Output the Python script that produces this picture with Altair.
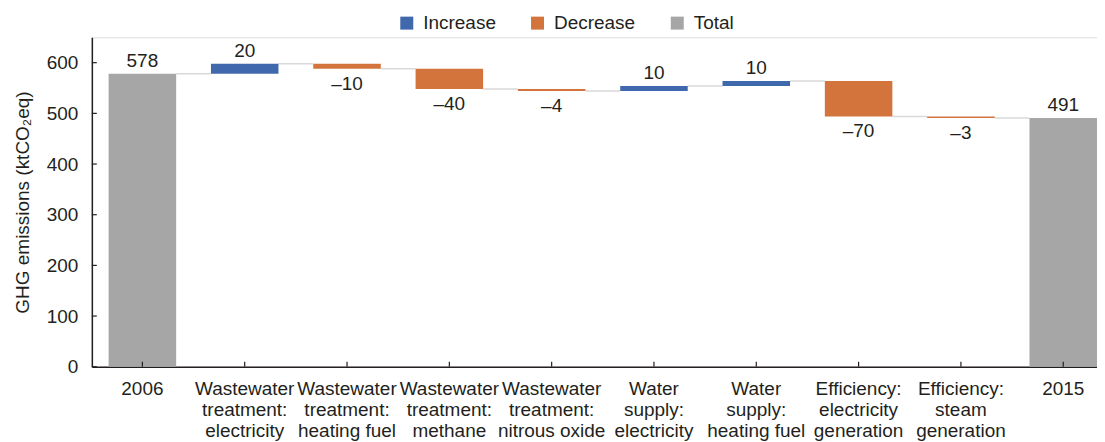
import altair as alt
import pandas as pd

# ---- data ----
categories = [
    "2006",
    "Wastewater|treatment:|electricity",
    "Wastewater|treatment:|heating fuel",
    "Wastewater|treatment:|methane",
    "Wastewater|treatment:|nitrous oxide",
    "Water|supply:|electricity",
    "Water|supply:|heating fuel",
    "Efficiency:|electricity|generation",
    "Efficiency:|steam|generation",
    "2015",
]
start_total = 578
changes = [20, -10, -40, -4, 10, 10, -70, -3]
end_total = 491
y_ticks = [0, 100, 200, 300, 400, 500, 600]
legend_labels = ["Increase", "Decrease", "Total"]
legend_colors = ["#4068ac", "#d2743c", "#a6a6a6"]

FONT = "Liberation Sans"
FS = 19
AXIS_COLOR = "#231f20"
TEXT_COLOR = "#231f20"

# ---- build tables ----
rows = [dict(cat=categories[0], start=0, end=start_total, kind="Total",
             text=str(start_total))]
cum = start_total
for c, d in zip(categories[1:-1], changes):
    rows.append(dict(cat=c, start=cum, end=cum + d,
                     kind="Increase" if d > 0 else "Decrease",
                     text=str(d).replace("-", "\u2013")))
    cum += d
rows.append(dict(cat=categories[-1], start=0, end=end_total, kind="Total",
                 text=str(end_total)))
bars_df = pd.DataFrame(rows)

conn_df = pd.DataFrame([
    dict(cat=rows[i]["cat"], nxt=rows[i + 1]["cat"], level=rows[i]["end"])
    for i in range(len(rows) - 1)
])
ytick_df = pd.DataFrame({"v": y_ticks})

xscale = alt.Scale(domain=categories, paddingInner=0.34, paddingOuter=0.082, align=1)
yscale = alt.Scale(domain=[0, 650])

x_axis = alt.Axis(
    title=None, labelExpr="split(datum.label, '|')", labelAngle=0,
    labelFontSize=FS, labelFont=FONT, labelColor=TEXT_COLOR,
    labelLineHeight=21, labelPadding=13, ticks=False, tickSize=0,
    domainColor=AXIS_COLOR, domainWidth=1.5, labelOverlap=False, labelLimit=300,
)
y_axis = alt.Axis(
    title="GHG emissions (ktCO\u2082eq)", values=y_ticks, grid=False,
    ticks=False, tickSize=0, labelPadding=14, labelFontSize=FS,
    labelFont=FONT, labelColor=TEXT_COLOR, titleFont=FONT, titleFontSize=FS,
    titleFontWeight="normal", titleColor=TEXT_COLOR, titlePadding=14,
    domainColor=AXIS_COLOR, domainWidth=1.5,
)

connectors = alt.Chart(conn_df).mark_rule(color="#d9d9d9", strokeWidth=1.5).encode(
    x=alt.X("cat:N", scale=xscale, sort=categories, axis=x_axis, bandPosition=1),
    x2=alt.X2("nxt:N", bandPosition=0),
    y=alt.Y("level:Q", scale=yscale, axis=y_axis),
)

bars = alt.Chart(bars_df).mark_bar().encode(
    x=alt.X("cat:N", scale=xscale, sort=categories, axis=x_axis),
    y=alt.Y("start:Q", scale=yscale, axis=y_axis),
    y2="end:Q",
    color=alt.Color(
        "kind:N",
        scale=alt.Scale(domain=legend_labels, range=legend_colors),
        legend=alt.Legend(
            title=None, orient="none", legendX=306, legendY=-24,
            direction="horizontal", symbolType="square", symbolSize=169,
            symbolStrokeWidth=0, labelFontSize=FS, labelFont=FONT,
            labelColor=TEXT_COLOR, labelOffset=7, columnPadding=32,
        ),
    ),
)

labels_up = alt.Chart(bars_df).transform_filter("datum.kind != 'Decrease'").mark_text(
    baseline="alphabetic", dy=-7, fontSize=FS, font=FONT, color=TEXT_COLOR
).encode(x=alt.X("cat:N", sort=categories), y="end:Q", text="text:N")

labels_down = alt.Chart(bars_df).transform_filter("datum.kind == 'Decrease'").mark_text(
    baseline="top", dy=6, fontSize=FS, font=FONT, color=TEXT_COLOR
).encode(x=alt.X("cat:N", sort=categories), y="end:Q", text="text:N")

xticks = alt.Chart(bars_df).mark_rule(color=AXIS_COLOR, strokeWidth=1.2).encode(
    x=alt.X("cat:N", sort=categories), y=alt.value(325), y2=alt.value(330)
)
yticks = alt.Chart(ytick_df).mark_rule(color=AXIS_COLOR, strokeWidth=1.2).encode(
    y=alt.Y("v:Q"), x=alt.value(0), x2=alt.value(5)
)

chart = alt.layer(connectors, bars, labels_up, labels_down, xticks, yticks).properties(
    width=1007, height=330,
    autosize=alt.AutoSizeParams(type="none"),
    padding={"left": 84, "top": 29, "right": 0, "bottom": 75},
).configure_view(stroke=None).configure(font=FONT)

chart.save("out.html", embed_options={"renderer": "svg", "actions": False})
